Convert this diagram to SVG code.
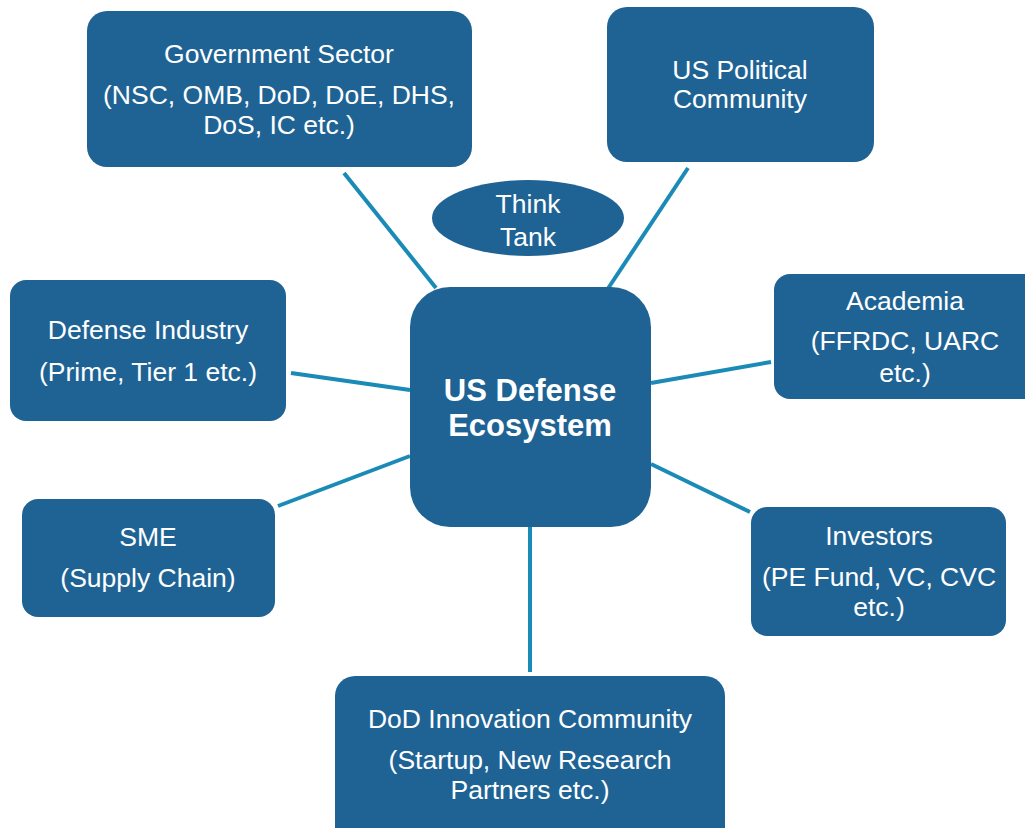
<svg xmlns="http://www.w3.org/2000/svg" width="1025" height="828" viewBox="0 0 1025 828">
<style>
.n{fill:#1F6395;}
.t{fill:#ffffff;font-family:"Liberation Sans",Arial,sans-serif;font-size:26.5px;text-anchor:middle;}
.b{fill:#ffffff;font-family:"Liberation Sans",Arial,sans-serif;font-size:31px;font-weight:bold;text-anchor:middle;}
.c{stroke:#1A8AB6;stroke-width:4;fill:none;}
</style>
<rect width="1025" height="828" fill="#ffffff"/>
<g id="connectors">
<line class="c" x1="344" y1="173" x2="436" y2="288"/>
<line class="c" x1="688" y1="168" x2="607" y2="290"/>
<line class="c" x1="291" y1="373" x2="410" y2="390"/>
<line class="c" x1="651" y1="383" x2="771" y2="362"/>
<line class="c" x1="278" y1="506" x2="410" y2="456"/>
<line class="c" x1="651" y1="464" x2="750" y2="512"/>
<line class="c" x1="530" y1="527" x2="530" y2="672"/>
</g>
<g id="government">
<rect class="n" x="87" y="11" width="385" height="156" rx="20"/>
<text class="t" x="279" y="63">Government Sector</text>
<text class="t" x="279" y="104">(NSC, OMB, DoD, DoE, DHS,</text>
<text class="t" x="279" y="134">DoS, IC etc.)</text>
</g>
<g id="political">
<rect class="n" x="607" y="7" width="267" height="155" rx="20"/>
<text class="t" x="740" y="79">US Political</text>
<text class="t" x="740" y="108">Community</text>
</g>
<g id="thinktank">
<ellipse class="n" cx="528" cy="218" rx="96" ry="38"/>
<text class="t" x="528" y="213">Think</text>
<text class="t" x="528" y="246">Tank</text>
</g>
<g id="center">
<rect class="n" x="410" y="287" width="241" height="240" rx="40"/>
<text class="b" x="530" y="401">US Defense</text>
<text class="b" x="530" y="436">Ecosystem</text>
</g>
<g id="industry">
<rect class="n" x="10" y="280" width="276" height="141" rx="16"/>
<text class="t" x="148" y="339">Defense Industry</text>
<text class="t" x="148" y="381">(Prime, Tier 1 etc.)</text>
</g>
<g id="academia">
<rect class="n" x="774" y="274" width="270" height="125" rx="16"/>
<text class="t" x="905" y="310">Academia</text>
<text class="t" x="905" y="350">(FFRDC, UARC</text>
<text class="t" x="905" y="382">etc.)</text>
</g>
<g id="sme">
<rect class="n" x="22" y="499" width="253" height="118" rx="16"/>
<text class="t" x="148" y="546">SME</text>
<text class="t" x="148" y="587">(Supply Chain)</text>
</g>
<g id="investors">
<rect class="n" x="751" y="507" width="255" height="129" rx="16"/>
<text class="t" x="879" y="545">Investors</text>
<text class="t" x="879" y="586">(PE Fund, VC, CVC</text>
<text class="t" x="879" y="616">etc.)</text>
</g>
<g id="innovation">
<rect class="n" x="335" y="676" width="390" height="170" rx="20"/>
<text class="t" x="530" y="728">DoD Innovation Community</text>
<text class="t" x="530" y="769">(Startup, New Research</text>
<text class="t" x="530" y="799">Partners etc.)</text>
</g>
</svg>
